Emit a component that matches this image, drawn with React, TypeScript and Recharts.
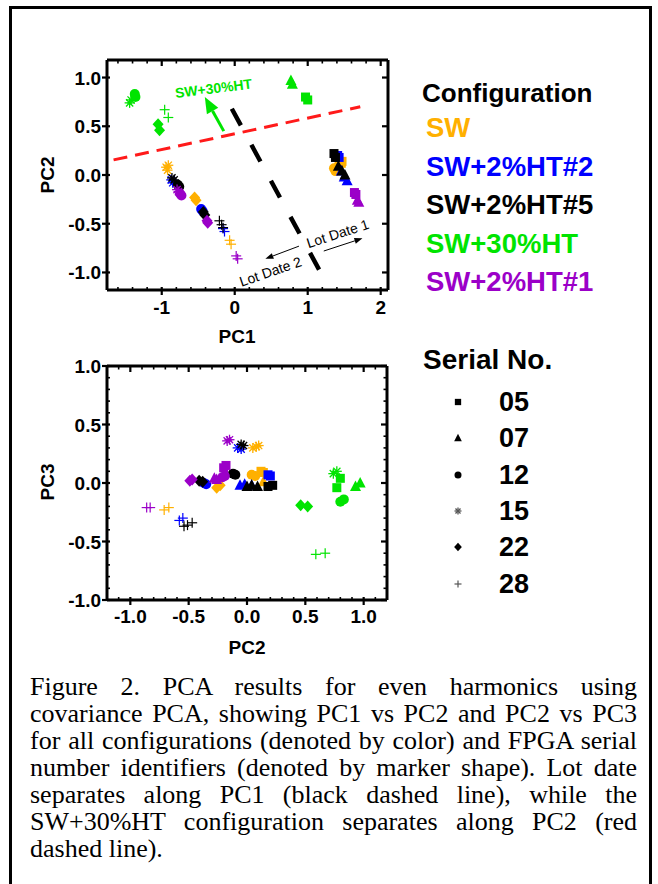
import React from "react";
import { ScatterChart, Scatter, XAxis, YAxis, ReferenceLine, ReferenceDot } from "recharts";

// [serial, PC1, PC2, PC3]
type Row = [string, number, number, number];

const CONFIGS = ["SW", "SW+2%HT#2", "SW+2%HT#5", "SW+30%HT", "SW+2%HT#1"];
const CONFIG_COLORS = ["#FFB000", "#0000FF", "#000000", "#00E400", "#9B00C8"];
const SERIALS = ["05", "07", "12", "15", "22", "28"];

const SW_ROWS: Row[] = [
  ["15", -0.94, 0.08, 0.31], ["15", -0.92, 0.05, 0.30], ["15", -0.91, 0.10, 0.32],
  ["22", -0.55, -0.23, -0.02], ["22", -0.53, -0.26, -0.04],
  ["28", -0.07, -0.67, -0.21], ["28", -0.05, -0.71, -0.23],
  ["12", 1.36, 0.07, 0.06], ["12", 1.38, 0.04, 0.07],
  ["05", 1.46, 0.12, 0.10], ["05", 1.47, 0.14, 0.09],
  ["07", 1.42, 0.14, 0.01],
];
const HT2_ROWS: Row[] = [
  ["15", -0.87, -0.05, 0.29], ["15", -0.85, -0.08, 0.30],
  ["12", -0.46, -0.35, -0.01], ["12", -0.44, -0.37, 0.0],
  ["28", -0.16, -0.55, -0.30], ["28", -0.14, -0.58, -0.32],
  ["07", 1.46, 0.04, -0.02], ["07", 1.50, -0.02, -0.01], ["07", 1.54, -0.06, -0.02],
  ["05", 1.41, 0.20, 0.06], ["05", 1.43, 0.18, 0.07],
];
const HT5_ROWS: Row[] = [
  ["15", -0.86, -0.03, 0.32], ["15", -0.83, -0.05, 0.33],
  ["12", -0.78, -0.10, 0.07], ["12", -0.76, -0.12, 0.08],
  ["22", -0.43, -0.38, 0.01], ["22", -0.41, -0.41, 0.02],
  ["28", -0.21, -0.47, -0.34], ["28", -0.18, -0.51, -0.36], ["28", -0.16, -0.54, -0.37],
  ["05", 1.36, 0.22, -0.02], ["05", 1.38, 0.18, -0.03],
  ["07", 1.42, 0.09, -0.03], ["07", 1.47, 0.04, -0.02], ["07", 1.51, 0.0, -0.03],
];
const HT30_ROWS: Row[] = [
  ["15", -1.44, 0.74, 0.08], ["15", -1.42, 0.77, 0.10],
  ["12", -1.37, 0.83, -0.14], ["12", -1.36, 0.80, -0.16],
  ["22", -1.05, 0.52, -0.20], ["22", -1.03, 0.46, -0.19],
  ["28", -0.96, 0.67, -0.60], ["28", -0.91, 0.59, -0.61],
  ["07", 0.77, 0.97, 0.0], ["07", 0.79, 0.93, -0.03],
  ["05", 0.97, 0.80, 0.04], ["05", 1.0, 0.77, -0.04],
];
const HT1_ROWS: Row[] = [
  ["15", -0.79, -0.15, 0.37], ["15", -0.77, -0.17, 0.36],
  ["12", -0.75, -0.19, 0.06], ["12", -0.73, -0.21, 0.05],
  ["22", -0.38, -0.47, 0.03], ["22", -0.37, -0.49, 0.02],
  ["28", 0.02, -0.83, -0.21], ["28", 0.04, -0.86, -0.21],
  ["05", 1.64, -0.18, 0.15], ["05", 1.66, -0.20, 0.13],
  ["07", 1.68, -0.26, 0.03], ["07", 1.70, -0.28, 0.04],
];
const ROWS_BY_CONFIG = [SW_ROWS, HT2_ROWS, HT5_ROWS, HT30_ROWS, HT1_ROWS];

// axis ticks
const PC1_MAJOR = [-1, 0, 1, 2];
const PC1_MINOR = [-1.6, -1.4, -1.2, -0.8, -0.6, -0.4, -0.2, 0.2, 0.4, 0.6, 0.8, 1.2, 1.4, 1.6, 1.8];
const PC_MAJOR = [-1, -0.5, 0, 0.5, 1];
const PC_MINOR_Y = [-0.9, -0.8, -0.7, -0.6, -0.4, -0.3, -0.2, -0.1, 0.1, 0.2, 0.3, 0.4, 0.6, 0.7, 0.8, 0.9];
const PC_MINOR_X = [-1.1, ...PC_MINOR_Y, 1.1];

// annotations (data coordinates)
const RED_LINE = [{ x: -1.66, y: 0.155 }, { x: 1.72, y: 0.7 }];
const BLACK_LINE = [{ x: -0.04, y: 0.68 }, { x: 1.17, y: -0.99 }];
const GREEN_ARROW = [{ x: -0.15, y: 0.45 }, { x: -0.41, y: 0.8 }];
const LOT2_ARROW = [{ x: 0.88, y: -0.73 }, { x: 0.42, y: -0.86 }];
const LOT1_ARROW = [{ x: 1.22, y: -0.78 }, { x: 1.75, y: -0.65 }];
const NOTES = [
  { text: "SW+30%HT", x: -0.29, y: 0.89, angle: -7, color: "#00E400", size: 14, weight: 700 },
  { text: "Lot Date 1", x: 1.41, y: -0.6, angle: -18, color: "#000", size: 14, weight: 400 },
  { text: "Lot Date 2", x: 0.49, y: -0.99, angle: -19, color: "#000", size: 14, weight: 400 },
];

const CAPTION = [
  "Figure 2. PCA results for even harmonics using",
  "covariance PCA, showing PC1 vs PC2 and PC2 vs PC3",
  "for all configurations (denoted by color) and FPGA serial",
  "number identifiers (denoted by marker shape). Lot date",
  "separates along PC1 (black dashed line), while the",
  "SW+30%HT configuration separates along PC2 (red",
  "dashed line).",
];

const SANS = "'Liberation Sans', Arial, sans-serif";
const SERIF = "'Liberation Serif', 'Times New Roman', serif";

function marker(serial: string, cx: number, cy: number, color: string, s = 1) {
  switch (serial) {
    case "05":
      return <rect x={cx - 4.5 * s} y={cy - 4.5 * s} width={9 * s} height={9 * s} fill={color} />;
    case "07":
      return (
        <polygon
          points={`${cx},${cy - 6 * s} ${cx + 5.5 * s},${cy + 4.5 * s} ${cx - 5.5 * s},${cy + 4.5 * s}`}
          fill={color}
        />
      );
    case "12":
      return <circle cx={cx} cy={cy} r={5 * s} fill={color} />;
    case "15": {
      const r = 5 * s;
      const d = r * 0.72;
      return (
        <g stroke={color} strokeWidth={1.3}>
          <line x1={cx - r} y1={cy} x2={cx + r} y2={cy} />
          <line x1={cx} y1={cy - r} x2={cx} y2={cy + r} />
          <line x1={cx - d} y1={cy - d} x2={cx + d} y2={cy + d} />
          <line x1={cx - d} y1={cy + d} x2={cx + d} y2={cy - d} />
        </g>
      );
    }
    case "22":
      return (
        <polygon
          points={`${cx},${cy - 6 * s} ${cx + 5.5 * s},${cy} ${cx},${cy + 6 * s} ${cx - 5.5 * s},${cy}`}
          fill={color}
        />
      );
    default: {
      const r = 5 * s;
      return (
        <g stroke={color} strokeWidth={1.2}>
          <line x1={cx - r} y1={cy} x2={cx + r} y2={cy} />
          <line x1={cx} y1={cy - r} x2={cx} y2={cy + r} />
        </g>
      );
    }
  }
}

function toPoints(rows: Row[]) {
  return rows.map(([serial, pc1, pc2, pc3]) => ({ serial, pc1, pc2, pc3 }));
}

const TICK_TEXT = { fontFamily: SANS, fontWeight: 700, fontSize: 19, fill: "#000" };

// tick renderers: ticks drawn by hand so majors and minors differ
function bottomTick(majors: number[], fmt: (v: number) => string, dy: number) {
  return (p: any) => {
    const v = p.payload.value;
    const major = majors.includes(v);
    return (
      <g>
        <line x1={p.x} x2={p.x} y1={p.y - 3} y2={major ? p.y + 5 : p.y} stroke="#000" strokeWidth={major ? 2.2 : 1.6} />
        {major && (
          <text x={p.x} y={p.y + dy} textAnchor="middle" {...TICK_TEXT}>
            {fmt(v)}
          </text>
        )}
      </g>
    );
  };
}
function leftTick(majors: number[], fmt: (v: number) => string) {
  return (p: any) => {
    const v = p.payload.value;
    const major = majors.includes(v);
    return (
      <g>
        <line x1={major ? p.x - 5 : p.x} x2={p.x + 3} y1={p.y} y2={p.y} stroke="#000" strokeWidth={major ? 2.2 : 1.6} />
        {major && (
          <text x={p.x - 6} y={p.y + 7} textAnchor="end" {...TICK_TEXT}>
            {fmt(v)}
          </text>
        )}
      </g>
    );
  };
}
function topTick(majors: number[]) {
  return (p: any) => {
    const major = majors.includes(p.payload.value);
    return <line x1={p.x} x2={p.x} y1={p.y} y2={p.y + (major ? 6 : 3.5)} stroke="#000" strokeWidth={major ? 2.2 : 1.6} />;
  };
}
function rightTick(majors: number[]) {
  return (p: any) => {
    const major = majors.includes(p.payload.value);
    return <line x1={p.x} x2={p.x - (major ? 6 : 3.5)} y1={p.y} y2={p.y} stroke="#000" strokeWidth={major ? 2.2 : 1.6} />;
  };
}

function arrowShape(color: string, width: number, head: number, headW: number) {
  return (p: any) => {
    const { x1, y1, x2, y2 } = p;
    const a = Math.atan2(y2 - y1, x2 - x1);
    const bx = x2 - head * Math.cos(a);
    const by = y2 - head * Math.sin(a);
    const nx = (-Math.sin(a) * headW) / 2;
    const ny = (Math.cos(a) * headW) / 2;
    return (
      <g>
        <line x1={x1} y1={y1} x2={bx} y2={by} stroke={color} strokeWidth={width} />
        <polygon points={`${x2},${y2} ${bx + nx},${by + ny} ${bx - nx},${by - ny}`} fill={color} />
      </g>
    );
  };
}

const fmt1 = (v: number) => v.toFixed(1);
const fmt0 = (v: number) => String(v);

function Axes({
  xMajor, xMinor, yMajor, yMinor, xDomain, yDomain, xKey, yKey, xFmt, xDy,
}: any) {
  const xTicks = [...xMajor, ...xMinor];
  const yTicks = [...yMajor, ...yMinor];
  const axisLine = { stroke: "#000", strokeWidth: 3 };
  return [
    <XAxis key="xb" type="number" dataKey={xKey} domain={xDomain} ticks={xTicks} interval={0} height={60}
      tickSize={0} tickMargin={0} tickLine={false} axisLine={axisLine} tick={bottomTick(xMajor, xFmt, xDy)} allowDataOverflow />,
    <YAxis key="yl" type="number" dataKey={yKey} domain={yDomain} ticks={yTicks} interval={0} width={107}
      tickSize={0} tickMargin={0} tickLine={false} axisLine={axisLine} tick={leftTick(yMajor, fmt1)} allowDataOverflow />,
    <XAxis key="xt" xAxisId="top" orientation="top" type="number" dataKey={xKey} domain={xDomain} ticks={xTicks} interval={0} height={1}
      tickSize={0} tickMargin={0} tickLine={false} axisLine={axisLine} tick={topTick(xMajor)} allowDataOverflow />,
    <YAxis key="yr" yAxisId="right" orientation="right" type="number" dataKey={yKey} domain={yDomain} ticks={yTicks} interval={0} width={1}
      tickSize={0} tickMargin={0} tickLine={false} axisLine={axisLine} tick={rightTick(yMajor)} allowDataOverflow />,
  ];
}

function series(tag: string) {
  const out = ROWS_BY_CONFIG.map((rows, i) => (
    <Scatter
      key={CONFIGS[i] + tag}
      name={CONFIGS[i]}
      data={toPoints(rows)}
      isAnimationActive={false}
      shape={(p: any) => marker(p.payload.serial, p.cx, p.cy, CONFIG_COLORS[i])}
    />
  ));
  // invisible copy bound to the mirrored top/right axes so they are drawn
  out.unshift(
    <Scatter
      key={"mirror" + tag}
      xAxisId="top"
      yAxisId="right"
      data={toPoints(SW_ROWS)}
      isAnimationActive={false}
      shape={() => <g />}
    />
  );
  return out;
}

function TopChart() {
  return (
    <ScatterChart width={400} height={350} margin={{ top: 59, right: 11, bottom: 0, left: 0 }}>
      {Axes({
        xMajor: PC1_MAJOR, xMinor: PC1_MINOR, yMajor: PC_MAJOR, yMinor: [],
        xDomain: [-1.75, 2.1], yDomain: [-1.18, 1.18], xKey: "pc1", yKey: "pc2", xFmt: fmt0, xDy: 24,
      })}
      <ReferenceLine segment={RED_LINE} stroke="#FF1A1A" strokeWidth={3} strokeDasharray="14 8" ifOverflow="visible" />
      <ReferenceLine segment={BLACK_LINE} stroke="#000" strokeWidth={4.5} strokeDasharray="19 22" ifOverflow="visible" />
      <ReferenceLine segment={GREEN_ARROW} shape={arrowShape("#00E400", 3, 16, 13)} ifOverflow="visible" />
      <ReferenceLine segment={LOT2_ARROW} shape={arrowShape("#000", 1, 8, 6)} ifOverflow="visible" />
      <ReferenceLine segment={LOT1_ARROW} shape={arrowShape("#000", 1, 8, 6)} ifOverflow="visible" />
      {series("a")}
      {NOTES.map((n) => (
        <ReferenceDot
          key={n.text}
          x={n.x}
          y={n.y}
          r={0}
          ifOverflow="visible"
          shape={(p: any) => (
            <text
              x={p.cx}
              y={p.cy}
              transform={`rotate(${n.angle} ${p.cx} ${p.cy})`}
              textAnchor="middle"
              dominantBaseline="central"
              fontFamily={SANS}
              fontWeight={n.weight}
              fontSize={n.size}
              fill={n.color}
            >
              {n.text}
            </text>
          )}
        />
      ))}
    </ScatterChart>
  );
}

function BottomChart() {
  return (
    <ScatterChart width={400} height={354} margin={{ top: 59, right: 12, bottom: 0, left: 0 }}>
      {Axes({
        xMajor: PC_MAJOR, xMinor: PC_MINOR_X, yMajor: PC_MAJOR, yMinor: PC_MINOR_Y,
        xDomain: [-1.2, 1.2], yDomain: [-1, 1], xKey: "pc2", yKey: "pc3", xFmt: fmt1, xDy: 23,
      })}
      {series("b")}
    </ScatterChart>
  );
}

const boldText = (size: number): React.CSSProperties => ({
  position: "absolute",
  fontFamily: SANS,
  fontWeight: 700,
  fontSize: size,
  lineHeight: "30px",
  whiteSpace: "nowrap",
});

export default function App() {
  return (
    <div style={{ position: "absolute", left: 0, top: 0, width: 658, height: 884, overflow: "hidden", background: "#fff" }}>
      <div style={{ position: "absolute", left: 9, top: 6, width: 643, height: 900, border: "3px solid #000", boxSizing: "border-box" }} />

      <div style={{ position: "absolute", left: 0, top: 0 }}>
        <TopChart />
      </div>
      <div style={{ position: "absolute", left: 0, top: 306 }}>
        <BottomChart />
      </div>

      {/* axis titles */}
      <div style={{ ...boldText(19), left: 237, top: 322, transform: "translateX(-50%)" }}>PC1</div>
      <div style={{ ...boldText(19), left: 247, top: 633, transform: "translateX(-50%)" }}>PC2</div>
      <div style={{ ...boldText(19), left: 48, top: 175, transform: "translate(-50%, -50%) rotate(-90deg)" }}>PC2</div>
      <div style={{ ...boldText(19), left: 48, top: 482, transform: "translate(-50%, -50%) rotate(-90deg)" }}>PC3</div>

      {/* configuration legend */}
      <div style={{ ...boldText(26), left: 422, top: 78 }}>Configuration</div>
      {CONFIGS.map((c, i) => (
        <div key={c} style={{ ...boldText(27.5), left: 426, top: 113 + i * 38.5, color: CONFIG_COLORS[i] }}>
          {c}
        </div>
      ))}

      {/* serial legend */}
      <div style={{ ...boldText(28), left: 423, top: 345 }}>Serial No.</div>
      {SERIALS.map((s, i) => (
        <div key={s} style={{ position: "absolute", left: 448, top: 387 + i * 36.3, width: 120, height: 30 }}>
          <svg width={20} height={30} style={{ position: "absolute", left: 0, top: 0 }}>
            {marker(s, 10, 15, s === "15" || s === "28" ? "#555" : "#000", 0.7)}
          </svg>
          <div style={{ ...boldText(27), left: 51, top: 0 }}>{s}</div>
        </div>
      ))}

      {/* caption */}
      <div style={{ position: "absolute", left: 30, top: 673, width: 607, fontFamily: SERIF, fontSize: 26, lineHeight: "27px", color: "#000" }}>
        {CAPTION.map((line, i) => (
          <div key={i} style={{ textAlign: "justify", textAlignLast: i < CAPTION.length - 1 ? "justify" : "left" }}>
            {line}
          </div>
        ))}
      </div>
    </div>
  );
}
